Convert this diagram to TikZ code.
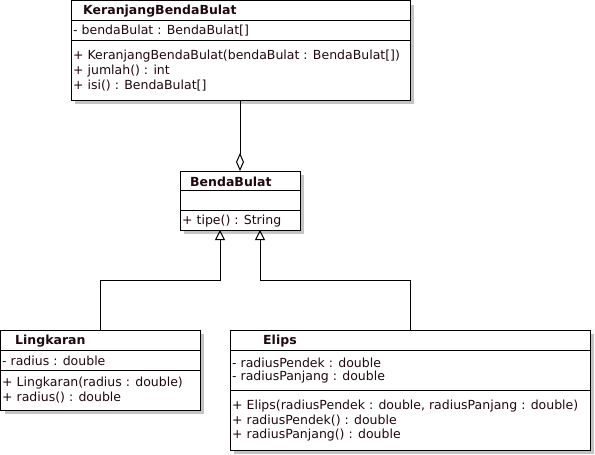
\documentclass[tikz,border=0pt]{standalone}
\usepackage{fontspec}
\setmainfont{DejaVu Sans}
\usetikzlibrary{arrows.meta}
\definecolor{txt}{HTML}{200810}
\definecolor{shade}{HTML}{C4C4C4}
\begin{document}
\begin{tikzpicture}[x=1pt,y=-1pt,
  box/.style={draw=black,line width=1pt,fill=white,inner sep=0pt,outer sep=0pt,anchor=north west},
  shadowbox/.style={fill=shade},
  divider/.style={draw=black,line width=1pt},
  lbl/.style={anchor=west,inner sep=0pt,text=txt,font=\fontsize{12.5}{14}\selectfont},
  ttl/.style={anchor=west,inner sep=0pt,text=txt,font=\fontsize{12.5}{14}\selectfont\bfseries},
  conn/.style={draw=black,line width=1pt},
  aggr/.style={conn,-{Diamond[open,length=18pt,width=8pt]}},
  gen/.style={conn,-{Triangle[open,length=10pt,width=10pt]}}]
\useasboundingbox (0,0) rectangle (595,455);

% shadows
\fill[shadowbox] (75,5) rectangle (414,104);
\fill[shadowbox] (184,175) rectangle (304,234);
\fill[shadowbox] (4.5,334) rectangle (204,414);
\fill[shadowbox] (234,334) rectangle (594,454);

% KeranjangBendaBulat
\node[box,minimum width=339pt,minimum height=99.5pt] (k) at (71,0.5) {};
\draw[divider] (k.west |- 0,20) -- (k.east |- 0,20);
\draw[divider] (k.west |- 0,40) -- (k.east |- 0,40);
\node[ttl] (kt) at (83,11) {KeranjangBendaBulat};
\node[lbl] (ka) at (73,31) {- bendaBulat : BendaBulat[]};
\node[lbl] (km1) at (73,56) {+ KeranjangBendaBulat(bendaBulat : BendaBulat[])};
\node[lbl] (km2) at (73,71) {+ jumlah() : int};
\node[lbl] (km3) at (73,86) {+ isi() : BendaBulat[]};

% BendaBulat
\node[box,minimum width=120pt,minimum height=59pt] (b) at (180,171) {};
\draw[divider] (b.west |- 0,190.5) -- (b.east |- 0,190.5);
\draw[divider] (b.west |- 0,210.5) -- (b.east |- 0,210.5);
\node[ttl] (bt) at (190,181.5) {BendaBulat};
\node[lbl] (bm1) at (182,221.5) {+ tipe() : String};

% Lingkaran
\node[box,minimum width=199.5pt,minimum height=80pt] (l) at (0.5,330) {};
\draw[divider] (l.west |- 0,350) -- (l.east |- 0,350);
\draw[divider] (l.west |- 0,370) -- (l.east |- 0,370);
\node[ttl] (lt) at (15,341) {Lingkaran};
\node[lbl] (la) at (2,361) {- radius : double};
\node[lbl] (lm1) at (2,383.5) {+ Lingkaran(radius : double)};
\node[lbl] (lm2) at (2,398) {+ radius() : double};

% Elips
\node[box,minimum width=360pt,minimum height=120pt] (e) at (230,330) {};
\draw[divider] (e.west |- 0,350) -- (e.east |- 0,350);
\draw[divider] (e.west |- 0,390) -- (e.east |- 0,390);
\node[ttl] (et) at (263,341) {Elips};
\node[lbl] (ea1) at (232,363) {- radiusPendek : double};
\node[lbl] (ea2) at (232,377.5) {- radiusPanjang : double};
\node[lbl] (em1) at (232,406) {+ Elips(radiusPendek : double, radiusPanjang : double)};
\node[lbl] (em2) at (232,420.5) {+ radiusPendek() : double};
\node[lbl] (em3) at (232,435) {+ radiusPanjang() : double};

% connectors
\draw[aggr] (k.south -| 240,0) -- (b.north -| 240,0);
\draw[gen] (l.north -| 100,0) |- (220,280) -- (b.south -| 220,0);
\draw[gen] (e.north -| 410,0) |- (260,280) -- (b.south -| 260,0);
\end{tikzpicture}
\end{document}
